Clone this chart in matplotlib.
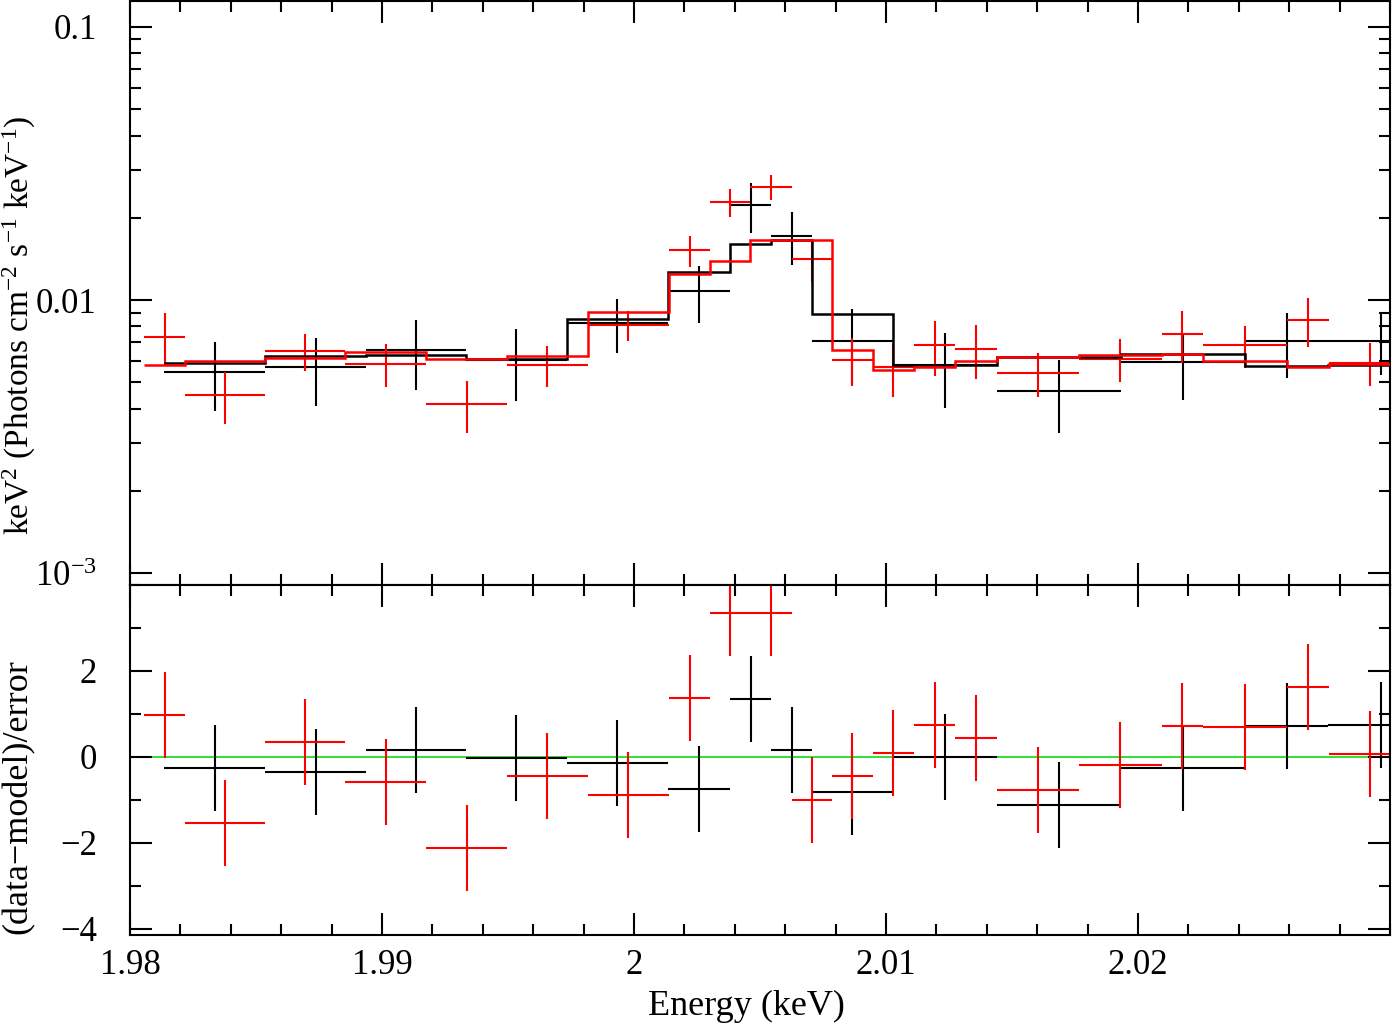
import numpy as np
import matplotlib
matplotlib.use('Agg')
import matplotlib.pyplot as plt
from matplotlib.ticker import FixedLocator, FixedFormatter, MultipleLocator, LogLocator, NullFormatter

plt.rcParams['font.family'] = ['Liberation Serif', 'DejaVu Serif']
plt.rcParams['mathtext.fontset'] = 'custom'
plt.rcParams['mathtext.rm'] = 'Liberation Serif'
plt.rcParams['mathtext.it'] = 'Liberation Serif:italic'
plt.rcParams['mathtext.bf'] = 'Liberation Serif:bold'

# ---- data set 1 (black): bin edges (keV), unfolded flux, 1-sigma error, model
blk_edges = [1.98135, 1.98536, 1.98937, 1.99333, 1.99734, 2.00135, 2.00381, 2.00544,
             2.00706, 2.01028, 2.01440, 2.01933, 2.02425, 2.02754, 2.03175]
blk_flux = [0.00547, 0.00568, 0.00657, 0.00605, 0.00824, 0.01079, 0.0222, 0.0172,
            0.0071, 0.0058, 0.00465, 0.00593, 0.00707, 0.0071]
blk_err = [0.00155, 0.00159, 0.00189, 0.0018, 0.00185, 0.00255, 0.0046, 0.0038,
           0.0022, 0.00178, 0.00139, 0.00163, 0.00189, 0.00177]
blk_model = [0.00587, 0.00624, 0.00627, 0.00609, 0.0085, 0.01268, 0.0160, 0.0166,
             0.00888, 0.0058, 0.0062, 0.00635, 0.00571, 0.00579]

# ---- data set 2 (red)
red_edges = [1.98056, 1.98218, 1.98536, 1.98853, 1.99175, 1.99496, 1.99817, 2.00139,
             2.00302, 2.00460, 2.00627, 2.00786, 2.00948, 2.01111, 2.01274, 2.01440,
             2.01766, 2.02095, 2.02258, 2.02591, 2.02758, 2.03087]
red_flux = [0.00734, 0.00448, 0.0065, 0.00585, 0.00415, 0.0058, 0.0081, 0.0152,
            0.0228, 0.0260, 0.0141, 0.00605, 0.00566, 0.00683, 0.00662, 0.0054,
            0.0061, 0.0075, 0.00683, 0.00845, 0.0059]
red_err = [0.0016, 0.00097, 0.001, 0.00105, 0.0009, 0.00098, 0.00105, 0.0020,
           0.00266, 0.0028, 0.0025, 0.0012, 0.00125, 0.00155, 0.00148, 0.001,
           0.0011, 0.00162, 0.0012, 0.0017, 0.00105]
red_model = [0.00577, 0.00596, 0.00615, 0.00646, 0.00606, 0.00623, 0.00902, 0.01246,
             0.0139, 0.0166, 0.0166, 0.00658, 0.00555, 0.00568, 0.00598, 0.00617,
             0.00631, 0.00633, 0.0060, 0.0057, 0.00583]

top_ticks = [1e-3, 1e-2, 1e-1]
top_labels = [r'$10^{-3}$', '0.01', '0.1']
res_ticks = [-4, -2, 0, 2]
x_ticks = [1.98, 1.99, 2.00, 2.01, 2.02]
x_labels = ['1.98', '1.99', '2', '2.01', '2.02']

W, H = 1392, 1025
fig = plt.figure(figsize=(W / 100, H / 100), dpi=100)
ax1 = fig.add_axes([130 / W, 1 - 585 / H, 1260 / W, 584 / H])
ax2 = fig.add_axes([130 / W, 1 - 935 / H, 1260 / W, 350 / H], sharex=ax1)

lw = 1.5
sets = [(blk_edges, blk_flux, blk_err, blk_model, 'black'),
        (red_edges, red_flux, red_err, red_model, 'red')]

for edges, flux, err, model, col in sets:
    e = np.array(edges)
    xc = (e[:-1] + e[1:]) / 2
    xw = (e[1:] - e[:-1]) / 2
    f = np.array(flux)
    s = np.array(err)
    m = np.array(model)
    ax1.errorbar(xc, f, xerr=xw, yerr=s, fmt='none', ecolor=col, elinewidth=lw, capsize=0, zorder=2)
    ax2.errorbar(xc, (f - m) / s, xerr=xw, yerr=np.ones_like(s), fmt='none', ecolor=col,
                 elinewidth=lw, capsize=0, zorder=2)

for edges, flux, err, model, col in sets:
    ax1.stairs(model, edges, baseline=None, color=col, lw=lw + 0.3, zorder=3)

ax2.axhline(0, color='#22dd22', lw=1.3, zorder=1)

# ---- axes styling
ax1.set_yscale('log')
ax1.set_ylim(9.04e-4, 0.1245)
ax1.set_xlim(1.98, 2.03)
ax2.set_ylim(-4.14, 4.0)

ax1.yaxis.set_major_locator(FixedLocator(top_ticks))
ax1.yaxis.set_major_formatter(FixedFormatter(top_labels))
ax1.yaxis.set_minor_locator(LogLocator(base=10, subs=np.arange(2, 10), numticks=20))
ax1.yaxis.set_minor_formatter(NullFormatter())

ax2.yaxis.set_major_locator(FixedLocator(res_ticks))
ax2.yaxis.set_minor_locator(MultipleLocator(1))
ax2.xaxis.set_major_locator(FixedLocator(x_ticks))
ax2.xaxis.set_major_formatter(FixedFormatter(x_labels))
ax2.xaxis.set_minor_locator(MultipleLocator(0.002))

for ax in (ax1, ax2):
    for sp in ax.spines.values():
        sp.set_linewidth(1.5)
    ax.tick_params(which='both', direction='in', top=True, right=True, width=1.5,
                   labelsize=25, colors='black')
    ax.tick_params(which='major', length=16)
    ax.tick_params(which='minor', length=8)
    ax.tick_params(axis='y', pad=24)
    ax.tick_params(axis='x', pad=10)

ax1.tick_params(labelbottom=False)

fig.text(19 / W, 1 - 325 / H, r'keV$^{2}$ (Photons cm$^{-2}$ s$^{-1}$ keV$^{-1}$)',
         rotation=90, ha='center', va='center', fontsize=24)
fig.text(18 / W, 1 - 797 / H, '(data\u2212model)/error', rotation=90,
         ha='center', va='center', fontsize=26)
fig.text(746 / W, 1 - 1006 / H, 'Energy (keV)', ha='center', va='center', fontsize=26)

fig.savefig('out.png', dpi=100)
